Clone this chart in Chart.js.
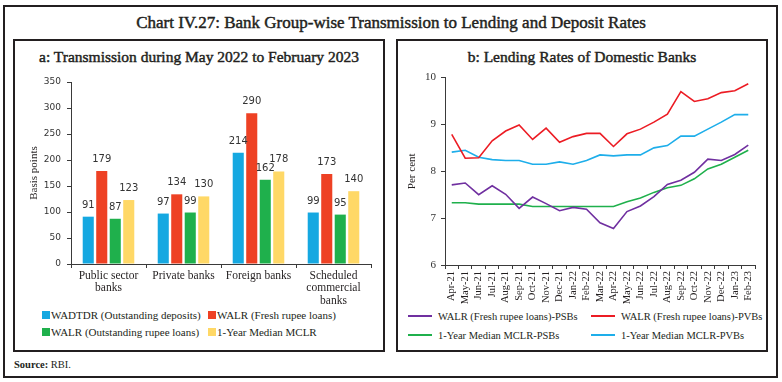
<!DOCTYPE html>
<html><head><meta charset="utf-8">
<script src="https://cdn.jsdelivr.net/npm/chart.js@4.4.0/dist/chart.umd.min.js"></script>
<style>
body{margin:0;background:#fff;width:782px;height:382px;position:relative;overflow:hidden;font-family:"Liberation Serif",serif;color:#231f20}
.box{position:absolute;border:2px solid #231f20;box-sizing:border-box}
.t{position:absolute;white-space:nowrap;text-align:center}
.semi{-webkit-text-stroke:0.45px #231f20}
.leg{position:absolute;white-space:nowrap;line-height:14px;color:#231f20}
.sq{display:inline-block;width:8px;height:8px;margin-right:1px;vertical-align:0px}
.ln{display:inline-block;width:24px;height:2px;margin-right:6px;vertical-align:3px}
canvas{position:absolute}
</style>
</head><body>
<div class="box" style="left:3px;top:5px;width:775px;height:373px"></div>
<div class="box" style="left:13px;top:39px;width:372px;height:313px"></div>
<div class="box" style="left:396px;top:39px;width:372px;height:313px"></div>
<div class="t semi" style="left:0;width:782px;top:13px;font-size:17px">Chart IV.27: Bank Group-wise Transmission to Lending and Deposit Rates</div>
<div class="t semi" style="left:13px;width:372px;top:48px;font-size:15.5px">a: Transmission during May 2022 to February 2023</div>
<div class="t semi" style="left:396px;width:372px;top:48px;font-size:15.5px">b: Lending Rates of Domestic Banks</div>
<div class="t" style="left:14px;top:359px;font-size:10.5px;text-align:left"><b>Source:</b> RBI.</div>
<div id="legA"></div>
<div id="legB"></div>
<canvas id="ca" width="370" height="240" style="left:14px;top:70px;width:370px;height:240px"></canvas>
<canvas id="cb" width="366" height="240" style="left:398px;top:66px;width:366px;height:240px"></canvas>
<script>
// ---- Panel a data ----
const bankGroups = [["Public sector","banks"],"Private banks","Foreign banks",["Scheduled","commercial","banks"]];
const wadtdrOutstanding = [91, 97, 214, 99];
const walrFresh = [179, 134, 290, 173];
const walrOutstanding = [87, 99, 162, 95];
const medianMclr = [123, 130, 178, 140];
const seriesNamesA = ["WADTDR (Outstanding deposits)","WALR (Fresh rupee loans)","WALR (Outstanding rupee loans)","1-Year Median MCLR"];
const colorsA = ["#15a8e1","#ee4124","#1fb04c","#ffd866"];

// ---- Panel b data ----
const months = ["Apr-21","May-21","Jun-21","Jul-21","Aug-21","Sep-21","Oct-21","Nov-21","Dec-21","Jan-22","Feb-22","Mar-22","Apr-22","May-22","Jun-22","Jul-22","Aug-22","Sep-22","Oct-22","Nov-22","Dec-22","Jan-23","Feb-23"];
const walrFreshPSB = [7.71,7.75,7.50,7.69,7.51,7.21,7.45,7.31,7.16,7.23,7.19,6.90,6.78,7.14,7.26,7.46,7.72,7.81,7.98,8.26,8.23,8.36,8.56];
const walrFreshPVB = [8.79,8.28,8.29,8.65,8.86,8.99,8.68,8.92,8.62,8.74,8.81,8.81,8.53,8.80,8.90,9.05,9.22,9.70,9.49,9.55,9.68,9.72,9.87];
const mclrPSB = [7.33,7.33,7.30,7.30,7.30,7.30,7.25,7.25,7.25,7.25,7.25,7.25,7.25,7.35,7.43,7.55,7.65,7.70,7.84,8.05,8.15,8.30,8.45];
const mclrPVB = [8.41,8.45,8.30,8.25,8.23,8.23,8.15,8.15,8.20,8.15,8.23,8.35,8.33,8.35,8.35,8.50,8.55,8.75,8.75,8.90,9.05,9.21,9.21];
const seriesNamesB = ["WALR (Fresh rupee loans)-PSBs","WALR (Fresh rupee loans)-PVBs","1-Year Median MCLR-PSBs","1-Year Median MCLR-PVBs"];
const colorsB = ["#7030a0","#ec1c24","#1fb04c","#1eaeea"];

const axisColor = "#3a3a3a";
const numFont = {family:"DejaVu Sans", size:9};
const serifFont = {family:"Liberation Serif", size:11.5, lineHeight:1.07};

// HTML legends
function legend(el, names, colors, pos, swatch, fs){
  let h='';
  names.forEach((n,i)=>{
    const p=pos[i];
    h+=`<div class="leg" style="left:${p[0]}px;top:${p[1]-7}px;font-size:${fs}px">`+
      (swatch==='sq'?`<span class="sq" style="background:${colors[i]}"></span>`:`<span class="ln" style="background:${colors[i]}"></span>`)+
      n+`</div>`;
  });
  document.getElementById(el).innerHTML=h;
}
legend('legA', seriesNamesA, colorsA, [[42,315],[208,315],[42,332],[208,332]], 'sq', 11);
legend('legB', seriesNamesB, colorsB, [[408,317],[591,317],[408,336],[591,336]], 'ln', 10.5);

const barLabels = {
  id:'barLabels',
  afterDatasetsDraw(chart){
    const ctx=chart.ctx; ctx.save();
    ctx.font='10px "DejaVu Sans"'; ctx.fillStyle='#333'; ctx.textAlign='center'; ctx.textBaseline='alphabetic';
    chart.data.datasets.forEach((ds,i)=>{
      chart.getDatasetMeta(i).data.forEach((bar,j)=>{ ctx.fillText(String(ds.data[j]), bar.x, bar.y-9); });
    });
    ctx.restore();
  }
};

new Chart(document.getElementById('ca'), {
  type:'bar',
  data:{labels:bankGroups, datasets:[wadtdrOutstanding,walrFresh,walrOutstanding,medianMclr].map((d,i)=>({
    label:seriesNamesA[i], data:d, backgroundColor:colorsA[i], borderWidth:0, barPercentage:0.82, categoryPercentage:0.72}))},
  options:{
    responsive:false, animation:false, devicePixelRatio:1,
    layout:{padding:{left:10,right:13,top:12,bottom:0}},
    plugins:{legend:{display:false}, tooltip:{enabled:false}},
    scales:{
      x:{grid:{display:true,drawOnChartArea:false,drawTicks:true,tickLength:4,color:axisColor,offset:true},
         border:{color:axisColor,width:1},
         ticks:{font:serifFont,color:'#231f20',padding:2,maxRotation:0,autoSkip:false},
         afterFit:s=>{s.height=46;}},
      y:{min:0,max:350,
         grid:{display:true,drawOnChartArea:false,drawTicks:true,tickLength:4,color:axisColor},
         border:{color:axisColor,width:1},
         ticks:{stepSize:50,font:numFont,color:'#333',padding:6},
         title:{display:true,text:'Basis points',font:{family:'Liberation Serif',size:11},color:'#231f20'},
         afterFit:s=>{s.width=47;}}
    }
  },
  plugins:[barLabels]
});

new Chart(document.getElementById('cb'), {
  type:'line',
  data:{labels:months, datasets:[walrFreshPSB,walrFreshPVB,mclrPSB,mclrPVB].map((d,i)=>({
    label:seriesNamesB[i], data:d, borderColor:colorsB[i], backgroundColor:colorsB[i], borderWidth:1.6, pointRadius:0, tension:0, fill:false}))},
  options:{
    responsive:false, animation:false, devicePixelRatio:1,
    layout:{padding:{left:4,right:9,top:10,bottom:0}},
    plugins:{legend:{display:false}, tooltip:{enabled:false}},
    scales:{
      x:{offset:true,
         grid:{display:true,drawOnChartArea:false,drawTicks:true,tickLength:4,color:axisColor,offset:true},
         border:{color:axisColor,width:1},
         ticks:{font:{family:'Liberation Serif',size:10.5},color:'#231f20',padding:2,maxRotation:90,minRotation:90,autoSkip:false},
         afterFit:s=>{s.height=41;}},
      y:{min:6,max:10,
         grid:{display:true,drawOnChartArea:false,drawTicks:true,tickLength:4,color:axisColor},
         border:{color:axisColor,width:1},
         ticks:{stepSize:1,font:{family:'Liberation Serif',size:11},color:'#333',padding:5},
         title:{display:true,text:'Per cent',font:{family:'Liberation Serif',size:11},color:'#231f20'},
         afterFit:s=>{s.width=43;}}
    }
  }
});
</script>
</body></html>
